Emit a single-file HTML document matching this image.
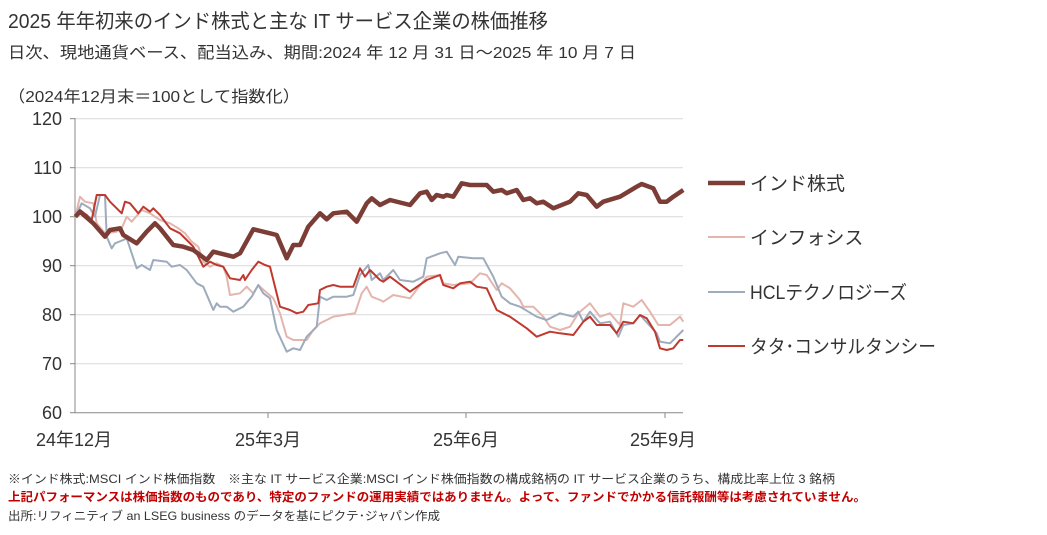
<!DOCTYPE html>
<html><head><meta charset="utf-8"><style>
html,body{margin:0;padding:0;background:#fff;}
svg{display:block;font-family:"Liberation Sans","Noto Sans CJK JP",sans-serif;}
</style></head><body>
<svg width="1047" height="535" viewBox="0 0 1047 535" xmlns="http://www.w3.org/2000/svg">
<text x="8" y="28" font-size="20" fill="#333" textLength="540" lengthAdjust="spacingAndGlyphs">2025 年年初来のインド株式と主な IT サービス企業の株価推移</text>
<text x="8" y="58" font-size="16" fill="#333" textLength="628" lengthAdjust="spacingAndGlyphs">日次、現地通貨ベース、配当込み、期間:2024 年 12 月 31 日～2025 年 10 月 7 日</text>
<text x="8" y="102" font-size="16" fill="#333" textLength="292" lengthAdjust="spacingAndGlyphs">（2024年12月末＝100として指数化）</text>
<g stroke="#d9d9d9" stroke-width="1">
<line x1="75" y1="118.7" x2="683" y2="118.7"/><line x1="75" y1="167.7" x2="683" y2="167.7"/>
<line x1="75" y1="216.7" x2="683" y2="216.7"/><line x1="75" y1="265.7" x2="683" y2="265.7"/>
<line x1="75" y1="314.7" x2="683" y2="314.7"/><line x1="75" y1="363.7" x2="683" y2="363.7"/>
</g>
<g stroke="#888" stroke-width="1">
<line x1="75" y1="118" x2="75" y2="413"/><line x1="75" y1="412.7" x2="683" y2="412.7"/>
<line x1="70" y1="118.7" x2="75" y2="118.7"/><line x1="70" y1="167.7" x2="75" y2="167.7"/><line x1="70" y1="216.7" x2="75" y2="216.7"/><line x1="70" y1="265.7" x2="75" y2="265.7"/><line x1="70" y1="314.7" x2="75" y2="314.7"/><line x1="70" y1="363.7" x2="75" y2="363.7"/><line x1="70" y1="412.7" x2="75" y2="412.7"/>
<line x1="268" y1="413" x2="268" y2="418"/><line x1="466" y1="413" x2="466" y2="418"/><line x1="665" y1="413" x2="665" y2="418"/>
</g>
<g font-size="18" fill="#333" text-anchor="end">
<text x="62" y="125">120</text><text x="62" y="174">110</text><text x="62" y="223">100</text><text x="62" y="272">90</text><text x="62" y="321">80</text><text x="62" y="370">70</text><text x="62" y="419">60</text>
</g>
<g font-size="18" fill="#333" text-anchor="middle">
<text x="74" y="446">24年12月</text><text x="268" y="446">25年3月</text><text x="466" y="446">25年6月</text><text x="663" y="446">25年9月</text>
</g>
<g fill="none" stroke-linejoin="round">
<polyline stroke="#e3b5ad" stroke-width="2" points="75.3,216.7 80,196.7 85,201.7 93.3,203.3 96.7,223.3 105,233.3 116.7,231.7 121.7,228.3 126.7,216.7 131.7,221.7 141.7,210 150,213.3 160,220 170,223.3 178.3,228.3 185,233.3 191.7,241.7 198.3,246.7 203.3,261.7 210,266.7 216.7,263.3 223.3,266.7 226.7,276.7 230,295 240,293.3 246.7,286.7 253.3,293.3 258.3,285 261.7,288.3 273.3,298.3 280,313.3 286.7,336.7 293.3,340 300,340 306.7,340 313.3,330 320,323.3 326.7,320 333.3,316.7 343.3,315 355,313.3 361.7,293.3 366.7,286.7 371.7,296.7 380,300 383.3,301.7 393.3,295 410,298.3 426.7,276.7 440,275 443.3,283.3 453.3,285 470,283.3 480,273.3 486.7,275 496.7,290 501.7,283.3 510,288.3 520,300 523.3,306.7 533.3,306.7 543.3,316.7 550,326.7 560,330 570,326.7 578.3,313.3 590,303.3 600,316.7 610,313.3 620,325 623.3,303.3 633.3,306.7 641.7,300 650,311.7 658.3,325 670,325 680,316.7 683.3,321.7"/>
<polyline stroke="#9dabbd" stroke-width="2" points="75.3,216.7 81.7,203.3 90,208.3 95,216.7 100,195 105,195 106.7,236.7 111.7,248.3 115,243.3 123.3,240 126.7,238.3 136.7,268.3 141.7,265 150,270 153.3,260 166.7,261.7 171.7,266.7 180,265 186.7,270 196.7,283.3 203.3,286.7 213.3,310 216.7,303.3 220,306.7 226.7,306.7 233.3,311.7 243.3,306.7 251.7,296.7 258.3,285 263.3,293.3 270,298.3 276.7,330 286.7,351.7 293.3,348.3 300,350 306.7,336.7 316.7,326.7 320,296.7 326.7,300 333.3,296.7 346.7,296.7 353.3,295 360,275 368.3,265 371.7,280 380,273.3 383.3,280 393.3,270 400,280 413.3,281.7 423.3,276.7 426.7,258.3 440,253.3 446.7,251.7 455,265 458.3,256.7 473.3,258.3 483.3,258.3 493.3,276.7 501.7,296.7 510,303.3 520,306.7 536.7,316.7 546.7,320 560,313.3 573.3,316.7 578.3,311.7 583.3,321.7 590,311.7 600,323.3 610,321.7 618.3,336.7 623.3,325 633.3,323.3 640,315 656.7,333.3 660,341.7 670,343.3 683.3,330"/>
<polyline stroke="#c0392f" stroke-width="2" points="75.3,216.7 80,210 86.7,215 91.7,220 96.7,195 105,195 110,201.7 121.7,213.3 125,201.7 130,203.3 138.3,213.3 143.3,206.7 150,211.7 153.3,208.3 160,215 170,228.3 180,233.3 186.7,240 193.3,246.7 203.3,266.7 210,261.7 216.7,265 223.3,266.7 230,278.3 240,280 243.3,275 245,280 251.7,270 258.3,261.7 265,265 270,266.7 280,306.7 290,310 296.7,313.3 303.3,311.7 308.3,305 318.3,303.3 320,290 326.7,286.7 333.3,285 340,286.7 353.3,286.7 360,268.3 365,276.7 370,270 380,280 383.3,281.7 390,276.7 396.7,281.7 410,291.7 426.7,280 440,275 443.3,285 453.3,288.3 460,283.3 470,281.7 476.7,286.7 486.7,288.3 496.7,310 510,316.7 526.7,328.3 536.7,336.7 550,331.7 560,333.3 573.3,335 583.3,321.7 590,316.7 596.7,325 610,325 616.7,333.3 623.3,321.7 633.3,323.3 640,315 646.7,318.3 655,331.7 660,348.3 666.7,350 673.3,348.3 680,340 683.3,340"/>
<polyline stroke="#7b3d35" stroke-width="4.5" points="75.3,216.7 80,211.7 93.3,223.3 105,236.7 110,230 120,228.3 123.3,235 136.7,243.3 146.7,231.7 155,223.3 160,228.3 173.3,245 183.3,246.7 193.3,250 206.7,260 213.3,251.7 233.3,256.7 240,253.3 253.3,229.3 270,233.3 276.7,235 286.7,258.3 293.3,245 300,245 308.3,226.7 320,213.3 326.7,219.3 333.3,213.3 346.7,211.7 356.7,221.7 366.7,203.3 371.7,198.3 380,205 390,200 410,205 420,193.3 426.7,191.7 431.7,200 436.7,195 443.3,196.7 446.7,195 453.3,196.7 461.7,183.3 470,185 486.7,185 493.3,191.7 501.7,190 506.7,193.3 516.7,190 523.3,200 530,198.3 536.7,203.3 543.3,201.7 553.3,208.3 570,201.7 578.3,193.3 586.7,195 596.7,206.7 603.3,201.7 620,196.7 636.7,186.7 641.7,184 653.3,188.3 660,201.7 666.7,201.7 673.3,196.7 683.3,190"/>
</g>
<line x1="708" y1="183" x2="745" y2="183" stroke="#7b3d35" stroke-width="4.5"/>
<line x1="708" y1="237" x2="745" y2="237" stroke="#e3b5ad" stroke-width="2"/>
<line x1="708" y1="292" x2="745" y2="292" stroke="#9dabbd" stroke-width="2"/>
<line x1="708" y1="346" x2="745" y2="346" stroke="#c0392f" stroke-width="2"/>
<g font-size="19" fill="#333">
<text x="750" y="190">インド株式</text>
<text x="750" y="244">インフォシス</text>
<text x="750" y="299" textLength="157" lengthAdjust="spacingAndGlyphs">HCLテクノロジーズ</text>
<text x="750" y="353" textLength="186" lengthAdjust="spacingAndGlyphs">タタ･コンサルタンシー</text>
</g>
<text x="8" y="483" font-size="12" fill="#333" textLength="827" lengthAdjust="spacingAndGlyphs">※インド株式:MSCI インド株価指数　※主な IT サービス企業:MSCI インド株価指数の構成銘柄の IT サービス企業のうち、構成比率上位 3 銘柄</text>
<text x="8" y="501" font-size="12" font-weight="bold" fill="#c00000" textLength="858" lengthAdjust="spacingAndGlyphs">上記パフォーマンスは株価指数のものであり、特定のファンドの運用実績ではありません。よって、ファンドでかかる信託報酬等は考慮されていません。</text>
<text x="8" y="520" font-size="12" fill="#333" textLength="432" lengthAdjust="spacingAndGlyphs">出所:リフィニティブ an LSEG business のデータを基にピクテ･ジャパン作成</text>
</svg>
</body></html>
